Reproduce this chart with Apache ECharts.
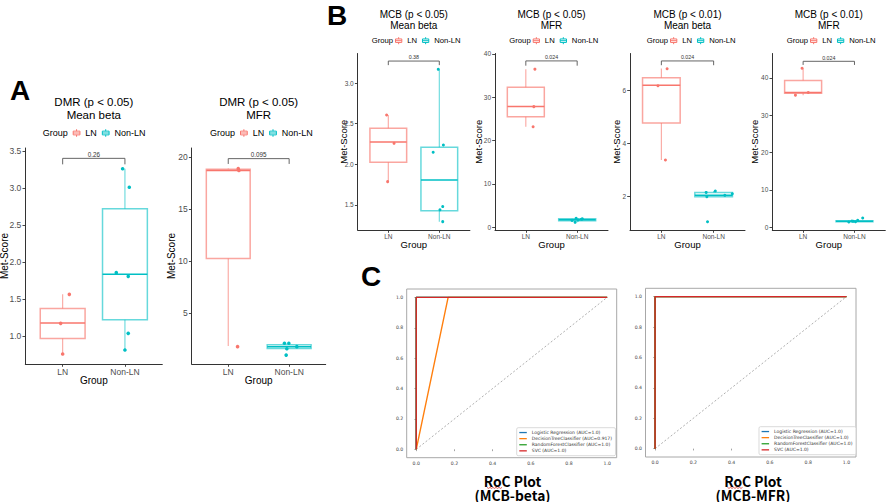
<!DOCTYPE html>
<html><head><meta charset="utf-8">
<script src="https://cdn.jsdelivr.net/npm/echarts@6/dist/echarts.min.js"></script>
<style>html,body{margin:0;padding:0;background:#fff}#c{width:886px;height:502px}</style>
</head><body><div id="c"></div>
<script>
// ================= DATA =================
const groups = ['LN', 'Non-LN'];

// Panel A – DMR (p < 0.05) Mean beta
const titleA1 = ['DMR (p < 0.05)', 'Mean beta'];
const yTicksA1 = [1.0, 1.5, 2.0, 2.5, 3.0, 3.5];
const boxA1LN = [0.757, 0.966, 1.175, 1.372, 1.565];      // lower whisker, Q1, median, Q3, upper whisker
const boxA1Non = [0.811, 1.22, 1.833, 2.72, 3.26];
const ptsA1LN = [[1.107, 1.563], [0.968, 1.171], [1.0, 0.757]];
const ptsA1Non = [[1.963, 3.26], [2.07, 3.01], [1.861, 1.856], [2.053, 1.806], [2.053, 1.036], [2.0, 0.811]];
const pA1 = '0.26';

// Panel A – DMR (p < 0.05) MFR
const titleA2 = ['DMR (p < 0.05)', 'MFR'];
const yTicksA2 = [5, 10, 15, 20];
const boxA2LN = [1.86, 10.26, 18.7, 18.81, 18.9];
const boxA2Non = [1.6, 1.63, 1.8, 1.99, 2.12];
const ptsA2LN = [[1.164, 18.88], [1.175, 18.7], [1.153, 1.8]];
const ptsA2Non = [[1.923, 2.12], [1.995, 2.12], [1.962, 1.6], [2.126, 1.8], [1.951, 0.99]];
const pA2 = '0.095';

// Panel B – MCB (p < 0.05) Mean beta
const titleB1 = ['MCB (p < 0.05)', 'Mean beta'];
const yTicksB1 = [1.5, 2.0, 2.5, 3.0];
const boxB1LN = [1.787, 2.025, 2.275, 2.443, 2.607];
const boxB1Non = [1.295, 1.43, 1.807, 2.209, 3.168];
const ptsB1LN = [[0.967, 2.607], [1.113, 2.258], [0.987, 1.787]];
const ptsB1Non = [[1.98, 3.168], [2.08, 2.238], [1.88, 2.148], [2.067, 1.48], [2.013, 1.44], [2.067, 1.295]];
const pB1 = '0.38';

// Panel B – MCB (p < 0.05) MFR
const titleB2 = ['MCB (p < 0.05)', 'MFR'];
const yTicksB2 = [0, 10, 20, 30, 40];
const boxB2LN = [23.2, 25.5, 27.9, 32.3, 36.5];
const boxB2Non = [1.15, 1.5, 1.75, 2.0, 2.1];
const ptsB2LN = [[1.177, 36.5], [1.156, 27.85], [1.142, 23.2]];
const ptsB2Non = [[1.98, 2.08], [1.96, 1.15], [2.02, 1.7], [2.08, 1.85], [1.9, 1.6], [2.1, 1.95]];
const pB2 = '0.024';

// Panel B – MCB (p < 0.01) Mean beta
const titleB3 = ['MCB (p < 0.01)', 'Mean beta'];
const yTicksB3 = [2, 4, 6];
const boxB3LN = [3.375, 4.76, 6.175, 6.46, 6.81];
const boxB3Non = [2.0, 2.0, 2.05, 2.16, 2.21];
const ptsB3LN = [[1.11, 6.8], [0.935, 6.16], [1.078, 3.375]];
const ptsB3Non = [[1.857, 2.16], [2.032, 2.21], [2.214, 2.05], [2.357, 2.11], [1.87, 2.0], [1.883, 1.06]];
const pB3 = '0.024';

// Panel B – MCB (p < 0.01) MFR
const titleB4 = ['MCB (p < 0.01)', 'MFR'];
const yTicksB4 = [0, 10, 20, 30, 40];
const boxB4LN = [35.4, 35.9, 36.1, 39.3, 42.6];
const boxB4Non = [1.43, 1.5, 1.6, 1.75, 1.86];
const ptsB4LN = [[0.98, 42.6], [0.85, 35.4], [1.1, 36.1]];
const ptsB4Non = [[1.89, 1.43], [2.063, 1.86], [2.16, 2.5], [1.975, 1.6], [2.02, 1.5], [1.95, 1.7]];
const pB4 = '0.024';

// Panel C – ROC curves
const rocTicks = [0.0, 0.2, 0.4, 0.6, 0.8, 1.0];
const rocNamesBeta = ['Logistic Regression (AUC=1.0)', 'DecisionTreeClassifier (AUC=0.917)', 'RandomForestClassifier (AUC=1.0)', 'SVC (AUC=1.0)'];
const rocNamesMFR = ['Logistic Regression (AUC=1.0)', 'DecisionTreeClassifier (AUC=1.0)', 'RandomForestClassifier (AUC=1.0)', 'SVC (AUC=1.0)'];
const rocBetaLR = [[0, 0], [0, 1], [1, 1]];
const rocBetaDT = [[0, 0], [0.167, 1], [1, 1]];
const rocBetaRF = [[0, 0], [0, 1], [1, 1]];
const rocBetaSVC = [[0, 0], [0, 1], [1, 1]];
const rocMFRLR = [[0, 0], [0, 1], [1, 1]];
const rocMFRDT = [[0, 0], [0, 1], [1, 1]];
const rocMFRRF = [[0, 0], [0, 1], [1, 1]];
const rocMFRSVC = [[0, 0], [0, 1], [1, 1]];
const chanceLine = [[0, 0], [1, 1]];
const rocLabels = [['RoC Plot', '(MCB-beta)'], ['RoC Plot', '(MCB-MFR)']];
const panelLetters = ['A', 'B', 'C'];

// ================= STYLE / LAYOUT =================
const FF = "'Liberation Sans', Arial, sans-serif";
const MPL = "'DejaVu Sans', sans-serif";
const KR = "'Noto Sans CJK KR', 'Noto Sans', sans-serif";
const COL = ['#F8766D', '#00BFC4'];
const LIGHT = ['rgba(248,118,109,0.65)', 'rgba(0,191,196,0.6)'];
const MPLC = ['#1f77b4', '#ff7f0e', '#2ca02c', '#d62728'];

const panels = [
  {title: titleA1, ticks: yTicksA1, box: [boxA1LN, boxA1Non], pts: [ptsA1LN, ptsA1Non], p: pA1, dec: 1,
   g: {left: 25.3, top: 148, width: 137, height: 216}, ymin: 0.6216, ymax: 3.541, br: [3.32, 3.401],
   s: {tick: 8.5, name: 10, title: 11.5, leg: 9, p: 6.3, pt: 3.6, key: 7.5, ynGap: 15.8, xnGap: 11.7, tY: [102.3, 114.6], legY: 133, grpX: 42.7, legX: 72.7}},
  {title: titleA2, ticks: yTicksA2, box: [boxA2LN, boxA2Non], pts: [ptsA2LN, ptsA2Non], p: pA2, dec: 0,
   g: {left: 191.7, top: 148, width: 134, height: 216}, ymin: 0.134, ymax: 20.86, br: [19.33, 19.84],
   s: {tick: 8.5, name: 10, title: 11.5, leg: 9, p: 6.3, pt: 3.6, key: 7.5, ynGap: 15, xnGap: 11.7, tY: [102.3, 114.6], legY: 133, grpX: 210, legX: 240}},
  {title: titleB1, ticks: yTicksB1, box: [boxB1LN, boxB1Non], pts: [ptsB1LN, ptsB1Non], p: pB1, dec: 1,
   g: {left: 357.7, top: 53.5, width: 112.2, height: 176.5}, ymin: 1.192, ymax: 3.363, br: [3.22, 3.27],
   s: {tick: 6.5, name: 9.5, title: 10, leg: 7.7, p: 5.3, pt: 3, key: 7, ynGap: 9.6, xnGap: 9.5, tY: [14.5, 25.5], legY: 40.7, grpX: 371.7, legX: 395}},
  {title: titleB2, ticks: yTicksB2, box: [boxB2LN, boxB2Non], pts: [ptsB2LN, ptsB2Non], p: pB2, dec: 0,
   g: {left: 495, top: 53.5, width: 113, height: 176.5}, ymin: -0.62, ymax: 40.11, br: [37.3, 38.4],
   s: {tick: 6.5, name: 9.5, title: 10, leg: 7.7, p: 5.3, pt: 3, key: 7, ynGap: 12, xnGap: 9.5, tY: [14.5, 25.5], legY: 40.7, grpX: 509.3, legX: 532.7}},
  {title: titleB3, ticks: yTicksB3, box: [boxB3LN, boxB3Non], pts: [ptsB3LN, ptsB3Non], p: pB3, dec: 0,
   g: {left: 630, top: 53.5, width: 115, height: 176.5}, ymin: 0.751, ymax: 7.369, br: [6.93, 7.09],
   s: {tick: 6.5, name: 9.5, title: 10, leg: 7.7, p: 5.3, pt: 3, key: 7, ynGap: 8.6, xnGap: 9.5, tY: [14.5, 25.5], legY: 40.7, grpX: 646.7, legX: 670}},
  {title: titleB4, ticks: yTicksB4, box: [boxB4LN, boxB4Non], pts: [ptsB4LN, ptsB4Non], p: pB4, dec: 0,
   g: {left: 772.3, top: 53.5, width: 113, height: 176.5}, ymin: -0.72, ymax: 46.56, br: [43.5, 44.47],
   s: {tick: 6.5, name: 9.5, title: 10, leg: 7.7, p: 5.3, pt: 3, key: 7, ynGap: 12.5, xnGap: 9.5, tY: [14.5, 25.5], legY: 40.7, grpX: 786.7, legX: 810}}
];

const rocPanels = [
  {names: rocNamesBeta, lines: [rocBetaLR, rocBetaDT, rocBetaRF, rocBetaSVC], label: rocLabels[0],
   g: {left: 406.7, top: 289, width: 210, height: 168.7}, leg: {left: 516.7, top: 427.7}, lx: 512.5, wave: [487, 503]},
  {names: rocNamesMFR, lines: [rocMFRLR, rocMFRDT, rocMFRRF, rocMFRSVC], label: rocLabels[1],
   g: {left: 645.5, top: 288.3, width: 210.5, height: 168.7}, leg: {left: 759, top: 426.7}, lx: 753, wave: [727.5, 743.5]}
];

// ================= RENDER HELPERS =================
function boxRender(k) {
  return function (params, api) {
    const x = api.value(0);
    const P = i => api.coord([x, api.value(i)]);
    const lo = P(1), q1 = P(2), md = P(3), q3 = P(4), hi = P(5);
    const hw = api.size([0.72, 0])[0] / 2;
    return {type: 'group', children: [
      {type: 'line', shape: {x1: lo[0], y1: lo[1], x2: q1[0], y2: q1[1]}, style: {stroke: LIGHT[k], lineWidth: 1.1}},
      {type: 'line', shape: {x1: q3[0], y1: q3[1], x2: hi[0], y2: hi[1]}, style: {stroke: LIGHT[k], lineWidth: 1.1}},
      {type: 'rect', shape: {x: q3[0] - hw, y: q3[1], width: 2 * hw, height: q1[1] - q3[1]}, style: {fill: 'none', stroke: LIGHT[k], lineWidth: 1.5}},
      {type: 'line', shape: {x1: md[0] - hw, y1: md[1], x2: md[0] + hw, y2: md[1]}, style: {stroke: COL[k], lineWidth: 1.5}}
    ]};
  };
}
function bracketRender(label, fs) {
  return function (params, api) {
    const x1 = api.value(0), x2 = api.value(1), y0 = api.value(2), y1 = api.value(3);
    const a = api.coord([x1, y0]), b = api.coord([x1, y1]), c = api.coord([x2, y1]), d = api.coord([x2, y0]);
    return {type: 'group', children: [
      {type: 'polyline', shape: {points: [a, b, c, d]}, style: {stroke: '#555', lineWidth: 0.9, fill: null}},
      {type: 'text', x: (b[0] + c[0]) / 2, y: b[1] - 1.2, style: {text: label, fontSize: fs, fontFamily: FF, fill: '#333', align: 'center', verticalAlign: 'bottom'}}
    ]};
  };
}
const boxIcon = 'path://M5,0L5,2.5M5,7.5L5,10M0.5,2.5L9.5,2.5L9.5,7.5L0.5,7.5ZM0.5,5L9.5,5';

// ================= BUILD OPTION =================
const grid = [], xAxis = [], yAxis = [], series = [], legend = [], graphic = [];

panels.forEach((P, i) => {
  const s = P.s;
  grid.push(Object.assign({containLabel: false, outerBoundsMode: 'none'}, P.g));
  xAxis.push({
    type: 'value', gridIndex: i, min: 0.4, max: 2.6,
    axisLine: {show: true, onZero: false, lineStyle: {color: '#333', width: 1}},
    axisTick: {show: true, customValues: [1, 2], length: 2.8, lineStyle: {color: '#333', width: 0.9}},
    axisLabel: {customValues: [1, 2], formatter: v => groups[Math.round(v) - 1], fontSize: s.tick, fontFamily: FF, color: '#4D4D4D', margin: 3},
    splitLine: {show: false},
    name: 'Group', nameLocation: 'middle', nameGap: s.xnGap, nameMoveOverlap: false,
    nameTextStyle: {fontSize: s.name, fontFamily: FF, color: '#000', verticalAlign: 'top'}
  });
  yAxis.push({
    type: 'value', gridIndex: i, min: P.ymin, max: P.ymax,
    axisLine: {show: true, onZero: false, lineStyle: {color: '#333', width: 1}},
    axisTick: {show: true, customValues: P.ticks, length: 2.8, lineStyle: {color: '#333', width: 0.9}},
    axisLabel: {customValues: P.ticks, formatter: v => v.toFixed(P.dec), fontSize: s.tick, fontFamily: FF, color: '#4D4D4D', margin: 4},
    splitLine: {show: false},
    name: 'Met-Score', nameLocation: 'middle', nameRotate: 90, nameGap: s.ynGap, nameMoveOverlap: false,
    nameTextStyle: {fontSize: s.name, fontFamily: FF, color: '#000'}
  });
  [0, 1].forEach(k => {
    series.push({type: 'custom', name: groups[k], xAxisIndex: i, yAxisIndex: i, z: 2,
      data: [[k + 1].concat(P.box[k])], encode: {x: 0, y: [1, 2, 3, 4, 5]}, renderItem: boxRender(k), silent: true});
  });
  [0, 1].forEach(k => {
    series.push({type: 'scatter', name: groups[k], xAxisIndex: i, yAxisIndex: i, z: 3, silent: true,
      data: P.pts[k], symbol: 'circle', symbolSize: s.pt, itemStyle: {color: COL[k], opacity: 1}});
  });
  series.push({type: 'custom', name: 'bracket', xAxisIndex: i, yAxisIndex: i, z: 4, silent: true,
    data: [[1, 2, P.br[0], P.br[1]]], encode: {x: [0, 1], y: [2, 3]}, renderItem: bracketRender(P.p, s.p)});

  const cx = P.g.left + P.g.width / 2;
  P.title.forEach((t, j) => graphic.push({type: 'text', x: cx, y: s.tY[j], silent: true,
    style: {text: t, fontSize: s.title, fontFamily: FF, fill: '#000', align: 'center', verticalAlign: 'middle'}}));
  graphic.push({type: 'text', x: s.grpX, y: s.legY, silent: true,
    style: {text: 'Group', fontSize: s.leg, fontFamily: FF, fill: '#000', align: 'left', verticalAlign: 'middle'}});
  legend.push({left: s.legX, top: s.legY - (s.leg + 2) / 2, padding: 0, orient: 'horizontal',
    itemWidth: s.key, itemHeight: s.key, itemGap: 5, selectedMode: false,
    textStyle: {fontSize: s.leg, fontFamily: FF, color: '#000', lineHeight: s.leg + 2},
    data: groups.map((g, k) => ({name: g, icon: boxIcon, itemStyle: {color: 'rgba(0,0,0,0)', borderColor: COL[k], borderWidth: 1}}))});
});

rocPanels.forEach((R, r) => {
  const gi = panels.length + r;
  grid.push(Object.assign({containLabel: false, outerBoundsMode: 'none', show: true, borderColor: '#a8a8a8', borderWidth: 1, backgroundColor: 'transparent'}, R.g));
  xAxis.push({type: 'value', gridIndex: gi, min: -0.05, max: 1.05,
    axisLine: {show: false}, splitLine: {show: false},
    axisTick: {show: true, customValues: rocTicks, length: 1.8, lineStyle: {color: '#666', width: 0.6}},
    axisLabel: {customValues: rocTicks, formatter: v => v.toFixed(1), fontSize: 4.6, fontFamily: MPL, color: '#444', margin: 3}});
  yAxis.push({type: 'value', gridIndex: gi, min: -0.055, max: 1.055,
    axisLine: {show: false}, splitLine: {show: false},
    axisTick: {show: true, customValues: rocTicks, length: 1.8, lineStyle: {color: '#666', width: 0.6}},
    axisLabel: {customValues: rocTicks, formatter: v => v.toFixed(1), fontSize: 4.6, fontFamily: MPL, color: '#444', margin: 3.5}});
  series.push({type: 'line', name: 'chance', xAxisIndex: gi, yAxisIndex: gi, data: chanceLine, showSymbol: false, silent: true,
    lineStyle: {color: '#8c8c8c', width: 0.7, type: [2, 2]}, z: 1});
  R.lines.forEach((d, k) => series.push({type: 'line', name: R.names[k], xAxisIndex: gi, yAxisIndex: gi, data: d,
    showSymbol: false, silent: true, color: MPLC[k], lineStyle: {color: MPLC[k], width: 1.4}, z: 2 + k}));
  legend.push({left: R.leg.left, top: R.leg.top, orient: 'vertical', padding: [1.8, 3.5, 1.8, 2.6], itemGap: 0,
    itemWidth: 7.5, itemHeight: 1.3, icon: 'rect', selectedMode: false,
    backgroundColor: '#fff', borderColor: '#d0d0d0', borderWidth: 0.8, borderRadius: 1.5,
    textStyle: {fontSize: 4.5, fontFamily: MPL, color: '#333', lineHeight: 6.1},
    data: R.names.map((n, k) => ({name: n, itemStyle: {color: MPLC[k]}}))});
  graphic.push({type: 'text', x: R.lx, y: 473.5, silent: true,
    style: {text: R.label.join('\n'), fontSize: 13.8, lineHeight: 14, fontWeight: 'bold', fontFamily: KR, fill: '#000', align: 'center', verticalAlign: 'top'}});
  const pts = [];
  for (let x = R.wave[0], j = 0; x <= R.wave[1]; x += 1.5, j++) pts.push([x, 487.6 + (j % 2 ? 0.8 : -0.2)]);
  graphic.push({type: 'polyline', silent: true, shape: {points: pts}, style: {stroke: '#d9362b', lineWidth: 0.8, fill: null}});
});

// panel letters
[[10, 90], [327, 15.5], [361, 276]].forEach((p, i) => graphic.push({type: 'text', x: p[0], y: p[1], silent: true,
  style: {text: panelLetters[i], fontSize: 28, fontWeight: 'bold', fontFamily: FF, fill: '#000', align: 'left', verticalAlign: 'middle'}}));

const option = {
  backgroundColor: '#fff',
  animation: false,
  tooltip: {show: false},
  grid, xAxis, yAxis, series, legend, graphic
};
const chart = echarts.init(document.getElementById('c'), null, {renderer: 'svg'});
chart.setOption(option);
</script>
</body></html>
